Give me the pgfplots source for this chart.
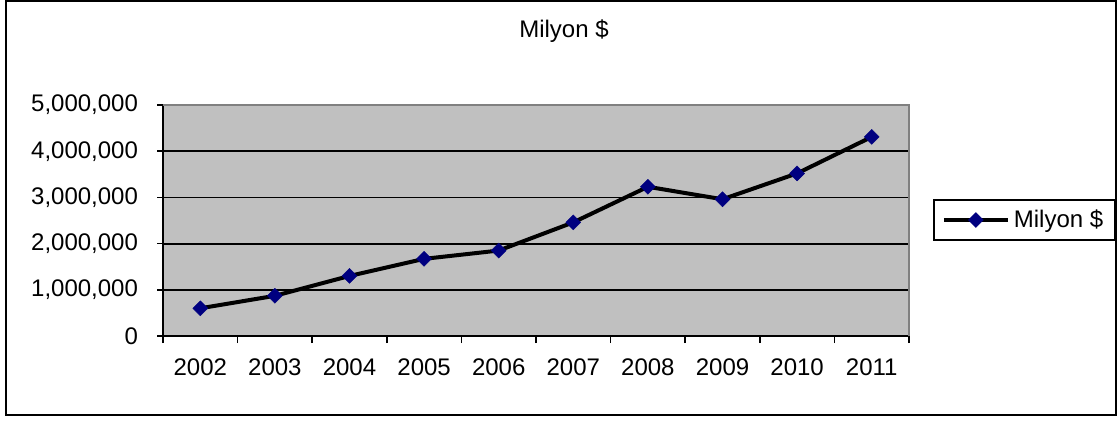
\documentclass[border=0pt]{standalone}
\usepackage{pgfplots}
\pgfplotsset{compat=1.18}
\usepackage{fontspec}
\setmainfont{Liberation Sans}
\definecolor{plotgray}{HTML}{C0C0C0}
\definecolor{bordergray}{HTML}{808080}
\definecolor{navymark}{HTML}{000080}
\begin{document}
\begin{tikzpicture}[font=\fontsize{12pt}{14pt}\selectfont]
\useasboundingbox (0,0) rectangle (559pt,210pt);
\draw[black,line width=1pt] (3pt,2.5pt) rectangle (558pt,209.5pt);
\node[anchor=base] at (282pt,191.3pt) {Milyon \$};
\begin{axis}[
  at={(81.5pt,42pt)}, anchor=south west,
  scale only axis, width=373pt, height=115.5pt,
  xmin=-0.5, xmax=9.5, ymin=0, ymax=5000000,
  axis lines=left,
  axis line style={-, black, line width=1pt},
  axis background/.style={fill=plotgray},
  tick align=outside,
  xtick={0,...,9},
  xticklabels={2002,2003,2004,2005,2006,2007,2008,2009,2010,2011},
  major x tick style={draw=none},
  minor xtick={-0.5,0.5,...,9.5},
  minor x tick style={black, line width=0.8pt},
  minor tick length=3.5pt,
  major tick length=3pt,
  ytick={0,1000000,2000000,3000000,4000000,5000000},
  y tick style={black, line width=0.8pt},
  scaled y ticks=false,
  yticklabel style={xshift=-6pt, /pgf/number format/fixed, /pgf/number format/1000 sep={,}, /pgf/number format/assume math mode=true},
  xticklabel style={yshift=-5pt},
  ymajorgrids,
  grid style={black, line width=0.9pt},
  legend style={at={(1.032,0.502)}, anchor=west, draw=black, line width=1pt,
    inner xsep=4pt, inner ysep=3pt, font=\fontsize{12pt}{14pt}\selectfont},
  legend image code/.code={\draw[mark repeat=2, mark phase=2, #1] plot coordinates {(0pt,0pt) (16pt,0pt) (32pt,0pt)};},
  clip=false,
]
\addplot[black, line width=2pt, mark=square*, mark size=2.65pt,
  mark options={rotate=45, fill=navymark, draw=navymark, line width=0.2pt}]
  coordinates {
  (0,600000) (1,870000) (2,1300000) (3,1670000) (4,1850000)
  (5,2460000) (6,3230000) (7,2960000) (8,3520000) (9,4310000)
  };
\addlegendentry{Milyon \$}
\draw[bordergray, line width=1pt] (axis cs:-0.5,5000000) -- (axis cs:9.5,5000000) -- (axis cs:9.5,0);
\end{axis}
\end{tikzpicture}
\end{document}
